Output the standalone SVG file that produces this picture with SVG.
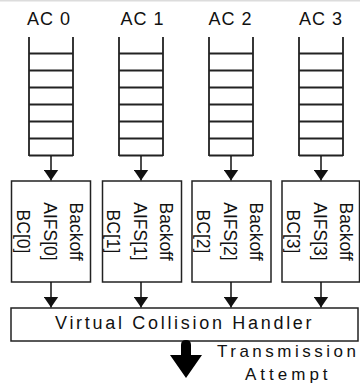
<svg xmlns="http://www.w3.org/2000/svg" width="360" height="383" viewBox="0 0 360 383">
  <style>
    .lbl { font-family: "Liberation Sans", Arial, sans-serif; fill: #111; }
    .ac { font-size: 18px; letter-spacing: 1px; }
    .reg { font-size: 17.5px; text-anchor: middle; }
    .q { stroke: #222; stroke-width: 1.8; fill: none; }
    .box { stroke: #222; stroke-width: 1.5; fill: #fff; }
    .conn { stroke: #111; stroke-width: 1.5; fill: none; marker-end: url(#head); }
  </style>
  <defs>
    <marker id="head" viewBox="0 0 11 15" refX="11" refY="7.5" markerWidth="11" markerHeight="15" orient="auto" markerUnits="userSpaceOnUse">
      <path d="M0,0 L11,7.5 L0,15 Z" fill="#111"/>
    </marker>
  </defs>

  <rect x="0" y="0" width="360" height="383" fill="#fff"/>
  <rect x="0" y="0" width="360" height="1.5" fill="#dcdcdc"/>

  <!-- access-category queues -->
  <g id="queue-ac0">
    <text class="lbl ac" x="27" y="25">AC 0</text>
    <path class="q" d="M29,37 V156 M73,37 V156 M29,53.5 H73 M29,70.5 H73 M29,87.5 H73 M29,104.5 H73 M29,121.5 H73 M29,138.5 H73 M29,155.5 H73"/>
  </g>
  <g id="queue-ac1">
    <text class="lbl ac" x="120.5" y="25">AC 1</text>
    <path class="q" d="M119,37 V156 M163,37 V156 M119,53.5 H163 M119,70.5 H163 M119,87.5 H163 M119,104.5 H163 M119,121.5 H163 M119,138.5 H163 M119,155.5 H163"/>
  </g>
  <g id="queue-ac2">
    <text class="lbl ac" x="208.5" y="25">AC 2</text>
    <path class="q" d="M209,37 V156 M253,37 V156 M209,53.5 H253 M209,70.5 H253 M209,87.5 H253 M209,104.5 H253 M209,121.5 H253 M209,138.5 H253 M209,155.5 H253"/>
  </g>
  <g id="queue-ac3">
    <text class="lbl ac" x="299" y="25">AC 3</text>
    <path class="q" d="M299,37 V156 M343,37 V156 M299,53.5 H343 M299,70.5 H343 M299,87.5 H343 M299,104.5 H343 M299,121.5 H343 M299,138.5 H343 M299,155.5 H343"/>
  </g>

  <!-- per-AC backoff entities -->
  <g id="backoff-0">
    <rect class="box" x="11.5" y="181" width="79" height="101"/>
    <text class="lbl reg" transform="translate(70,231.5) rotate(90)">Backoff</text>
    <text class="lbl reg" transform="translate(43.5,231.5) rotate(90)">AIFS[0]</text>
    <text class="lbl reg" transform="translate(17,231.5) rotate(90)">BC[0]</text>
  </g>
  <g id="backoff-1">
    <rect class="box" x="102.5" y="181" width="79" height="101"/>
    <text class="lbl reg" transform="translate(160,231.5) rotate(90)">Backoff</text>
    <text class="lbl reg" transform="translate(133.5,231.5) rotate(90)">AIFS[1]</text>
    <text class="lbl reg" transform="translate(106.5,231.5) rotate(90)">BC[1]</text>
  </g>
  <g id="backoff-2">
    <rect class="box" x="192" y="181" width="79" height="101"/>
    <text class="lbl reg" transform="translate(250,231.5) rotate(90)">Backoff</text>
    <text class="lbl reg" transform="translate(223.5,231.5) rotate(90)">AIFS[2]</text>
    <text class="lbl reg" transform="translate(197,231.5) rotate(90)">BC[2]</text>
  </g>
  <g id="backoff-3">
    <rect class="box" x="282" y="181" width="77.5" height="101"/>
    <text class="lbl reg" transform="translate(340,231.5) rotate(90)">Backoff</text>
    <text class="lbl reg" transform="translate(314,231.5) rotate(90)">AIFS[3]</text>
    <text class="lbl reg" transform="translate(287,231.5) rotate(90)">BC[3]</text>
  </g>

  <!-- collision handler -->
  <g id="handler">
    <rect class="box" x="11" y="308" width="347" height="33"/>
    <text class="lbl" x="55" y="329" font-size="18" letter-spacing="2.7">Virtual Collision Handler</text>
  </g>

  <!-- output -->
  <g id="output">
    <text class="lbl" x="217" y="357" font-size="17" letter-spacing="3.5">Transmission</text>
    <text class="lbl" x="245" y="380" font-size="17" letter-spacing="4">Attempt</text>
  </g>

  <g id="connectors">
    <line class="conn" x1="51" y1="156" x2="51" y2="180.5"/>
    <line class="conn" x1="141" y1="156" x2="141" y2="180.5"/>
    <line class="conn" x1="231" y1="156" x2="231" y2="180.5"/>
    <line class="conn" x1="321" y1="156" x2="321" y2="180.5"/>
    <line class="conn" x1="51" y1="282" x2="51" y2="307.5"/>
    <line class="conn" x1="141" y1="282" x2="141" y2="307.5"/>
    <line class="conn" x1="231" y1="282" x2="231" y2="307.5"/>
    <line class="conn" x1="321" y1="282" x2="321" y2="307.5"/>
    <path d="M181,345 Q181,340 186,340 Q191,340 191,345 L191,355 L202,355 L186,378 L170,355 L181,355 Z" fill="#000"/>
  </g>
</svg>
